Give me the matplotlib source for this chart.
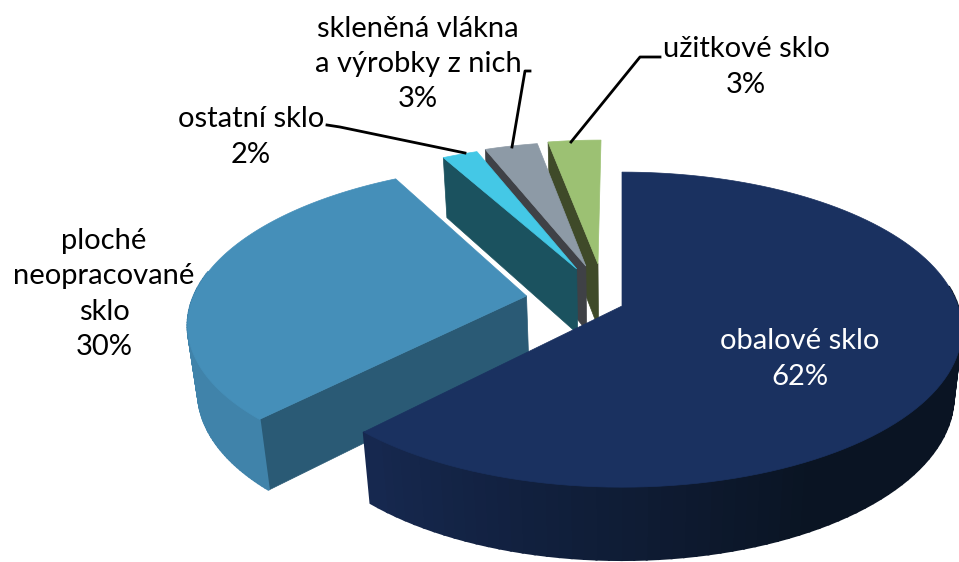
import matplotlib
matplotlib.use("Agg")
import matplotlib.pyplot as plt
from matplotlib.colors import to_rgb
import numpy as np

plt.rcParams['font.family'] = ['Lato', 'DejaVu Sans']

# chart data, clockwise from the top
categories = ['obalové sklo', 'ploché neopracované sklo', 'ostatní sklo',
              'skleněná vlákna a výrobky z nich', 'užitkové sklo']
values = [62, 30, 2, 3, 3]

# look of each slice
top_colors = ['#1a3160', '#458fb9', '#44c8e6', '#8d9aa6', '#9cc173']
face_colors = ['#15274d', '#2a5a75', '#1b525f', '#3f4146', '#3f4a29']
rim_dark = ['#0a1423', '#3b7698', '#1b525f', '#3f4146', '#3f4a29']
rim_light = ['#16284f', '#4083aa', '#1b525f', '#3f4146', '#3f4a29']
explode_x = [0.0, -0.287, -0.14, -0.112, -0.0745]
explode_y = [0.0, 0.066, 0.25, 0.27, 0.285]

# camera
CX, CY = 622, 306
AX, AY = 336, 154
PERSP = 0.15
DEPTH = 68
DEPTH_W = 0.024


def project(x, y, bottom=False):
    w = 1 + PERSP * y
    drop = 0
    if bottom:
        w = w + DEPTH_W
        drop = DEPTH
    return CX + AX * x / w, CY + (drop - AY * y) / w


def mix(c1, c2, t):
    c1, c2 = np.array(to_rgb(c1)), np.array(to_rgb(c2))
    return c1 + (c2 - c1) * t


def draw_slice(ax, i, a0, a1, z):
    x0, y0 = explode_x[i], explode_y[i]
    th = np.radians(np.linspace(a0, a1, 120))
    xs = x0 + np.sin(th)
    ys = y0 + np.cos(th)

    # flat side, only the one at the start of the slice can be seen
    if i > 0:
        ax_, ay_ = project(x0, y0)
        bx_, by_ = project(x0, y0, True)
        tx, ty = project(xs[0], ys[0])
        ux, uy = project(xs[0], ys[0], True)
        ax.fill([tx, ax_, bx_, ux], [ty, ay_, by_, uy], color=face_colors[i], lw=0.5, zorder=z)

    # curved side, gradient done with thin strips
    tops = project(xs, ys)
    bots = project(xs, ys, True)
    for k in range(len(th) - 1):
        if np.cos(th[k]) > 0.15:
            continue
        t = np.clip((np.degrees(th[k]) - 150) / 70, 0, 1)
        col = mix(rim_dark[i], rim_light[i], t)
        ax.fill([tops[0][k], tops[0][k + 1], bots[0][k + 1], bots[0][k]],
                [tops[1][k], tops[1][k + 1], bots[1][k + 1], bots[1][k]],
                color=col, lw=1.5, zorder=z)

    # top
    px = np.concatenate([[project(x0, y0)[0]], tops[0]])
    py = np.concatenate([[project(x0, y0)[1]], tops[1]])
    ax.fill(px, py, color=top_colors[i], lw=0.5, zorder=z + 0.5)


fig = plt.figure(figsize=(9.59, 5.62), dpi=100)
ax = fig.add_axes([0, 0, 1, 1])
ax.set_xlim(0, 959)
ax.set_ylim(562, 0)
ax.axis('off')

edges = np.cumsum([0] + values) / sum(values) * 360
# back slices first
order = [4, 3, 2, 1, 0]
for n, i in enumerate(order):
    draw_slice(ax, i, edges[i], edges[i + 1], n + 1)

# leader lines
ax.plot([327, 340, 465], [125, 127, 153], color='black', lw=2, zorder=10)
ax.plot([530, 525, 512], [71, 71, 147], color='black', lw=2, zorder=10)
ax.plot([660, 640, 571], [57, 57, 142], color='black', lw=2, zorder=10)

# labels
FS = 21
LS = 1.45
ax.text(800, 359, 'obalové sklo\n62%', color='white', fontsize=FS, ha='center', va='center', linespacing=LS, zorder=11)
ax.text(104, 294, 'ploché\nneopracované\nsklo\n30%', color='black', fontsize=FS, ha='center', va='center', linespacing=LS, zorder=11)
ax.text(251, 137, 'ostatní sklo\n2%', color='black', fontsize=FS, ha='center', va='center', linespacing=LS, zorder=11)
ax.text(418, 64, 'skleněná vlákna\na výrobky z nich\n3%', color='black', fontsize=FS, ha='center', va='center', linespacing=LS, zorder=11)
ax.text(746, 67, 'užitkové sklo\n3%', color='black', fontsize=FS, ha='center', va='center', linespacing=LS, zorder=11)

fig.savefig('out.png', dpi=100)
